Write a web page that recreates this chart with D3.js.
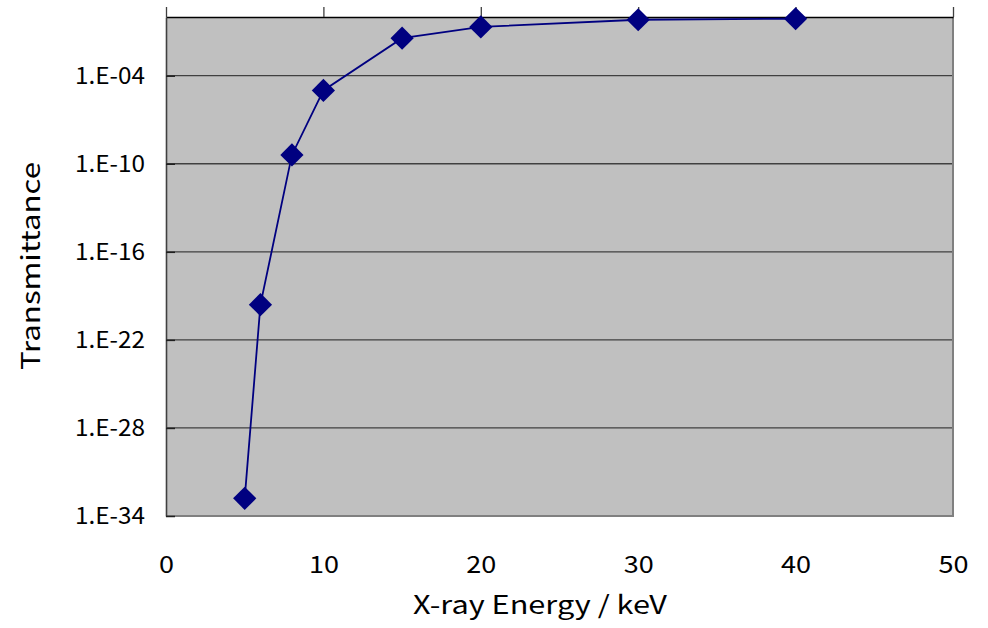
<!DOCTYPE html>
<html>
<head>
<meta charset="utf-8">
<script src="https://cdn.jsdelivr.net/npm/d3@7"></script>
<style>
  html, body { margin: 0; padding: 0; background: #ffffff; }
  svg { display: block; }
  text { font-family: "Noto Sans CJK JP", "Noto Sans", sans-serif; fill: #000; }
</style>
</head>
<body>
<svg id="chart" width="988" height="628"></svg>
<script>
// ---- data ----
const energies = [5, 6, 8, 10, 15, 20, 30, 40];
const transmittance = [1.6e-33, 2.5e-20, 4e-10, 1e-5, 0.036, 0.21, 0.65, 0.76];
const xTicks = [0, 10, 20, 30, 40, 50];
const yTicks = [1e-34, 1e-28, 1e-22, 1e-16, 1e-10, 1e-4];
const yTickLabels = ["1.E-34", "1.E-28", "1.E-22", "1.E-16", "1.E-10", "1.E-04"];
const xTitle = "X-ray Energy / keV";
const yTitle = "Transmittance";

// ---- layout ----
const W = 988, H = 628;
const margin = { left: 166, right: 35, top: 17, bottom: 112 };
const iw = W - margin.left - margin.right;
const ih = H - margin.top - margin.bottom;

const svg = d3.select("#chart");
const g = svg.append("g").attr("transform", `translate(${margin.left},${margin.top})`);

const x = d3.scaleLinear().domain([0, 50]).range([0, iw]);
const y = d3.scaleLog().domain([1e-34, 1]).range([ih, 0]);

// plot background
g.append("rect").attr("x", 0).attr("y", 0).attr("width", iw).attr("height", ih)
  .attr("fill", "#c0c0c0");

// gridlines
g.append("g").selectAll("line").data(yTicks.filter(d => d > 1e-34)).join("line")
  .attr("x1", 0).attr("x2", iw)
  .attr("y1", d => y(d)).attr("y2", d => y(d))
  .attr("stroke", "#404040").attr("stroke-width", 1.3);

// right & bottom border
g.append("path")
  .attr("d", `M${iw},0 V${ih} H0`)
  .attr("fill", "none").attr("stroke", "#808080").attr("stroke-width", 2);

// top axis (x axis crossing at 1) with outward ticks
const topAxis = g.append("g")
  .call(d3.axisTop(x).tickValues(xTicks).tickSize(10).tickSizeOuter(0).tickFormat(""));
topAxis.select(".domain").attr("stroke", "#000").attr("stroke-width", 1.6);
topAxis.selectAll(".tick line").attr("stroke", "#404040").attr("stroke-width", 1.3);

// left axis with inside ticks
const leftAxis = g.append("g")
  .call(d3.axisLeft(y).tickValues(yTicks).tickSizeInner(-9).tickSizeOuter(0).tickPadding(21)
    .tickFormat((d, i) => yTickLabels[i]));
leftAxis.select(".domain").attr("stroke", "#404040").attr("stroke-width", 1.6);
leftAxis.selectAll(".tick line").attr("stroke", "#202020").attr("stroke-width", 1.5);
leftAxis.selectAll(".tick text").style("font-size", "23px")
  .style("font-family", "'Noto Sans CJK JP', 'Noto Sans', sans-serif")
  .attr("textLength", 70).attr("lengthAdjust", "spacingAndGlyphs");

// bottom tick labels (axis labels placed "low")
const bottomAxis = g.append("g").attr("transform", `translate(0,${ih})`)
  .call(d3.axisBottom(x).tickValues(xTicks).tickSize(0).tickPadding(40).tickFormat(d3.format("d")));
bottomAxis.select(".domain").remove();
bottomAxis.selectAll(".tick text").style("font-size", "24px")
  .style("font-family", "'Noto Sans CJK JP', 'Noto Sans', sans-serif")
  .attr("textLength", d => d < 10 ? 15 : 30).attr("lengthAdjust", "spacingAndGlyphs");

// line
const line = d3.line().x((d, i) => x(energies[i])).y(d => y(d));
g.append("path").datum(transmittance)
  .attr("d", line).attr("fill", "none").attr("stroke", "#000080").attr("stroke-width", 1.8);

// diamond markers
const sym = d3.symbol().type(d3.symbolSquare).size(270);
g.append("g").selectAll("path").data(transmittance).join("path")
  .attr("d", sym)
  .attr("transform", (d, i) => `translate(${x(energies[i])},${y(d)}) rotate(45)`)
  .attr("fill", "#000080");

// axis titles
svg.append("text")
  .attr("x", 540).attr("y", 614)
  .attr("text-anchor", "middle")
  .style("font-size", "25px")
  .attr("textLength", 254).attr("lengthAdjust", "spacingAndGlyphs")
  .text(xTitle);

svg.append("text")
  .attr("transform", `translate(40,266) rotate(-90)`)
  .attr("text-anchor", "middle")
  .style("font-size", "26px")
  .attr("textLength", 208).attr("lengthAdjust", "spacingAndGlyphs")
  .text(yTitle);
</script>
</body>
</html>
